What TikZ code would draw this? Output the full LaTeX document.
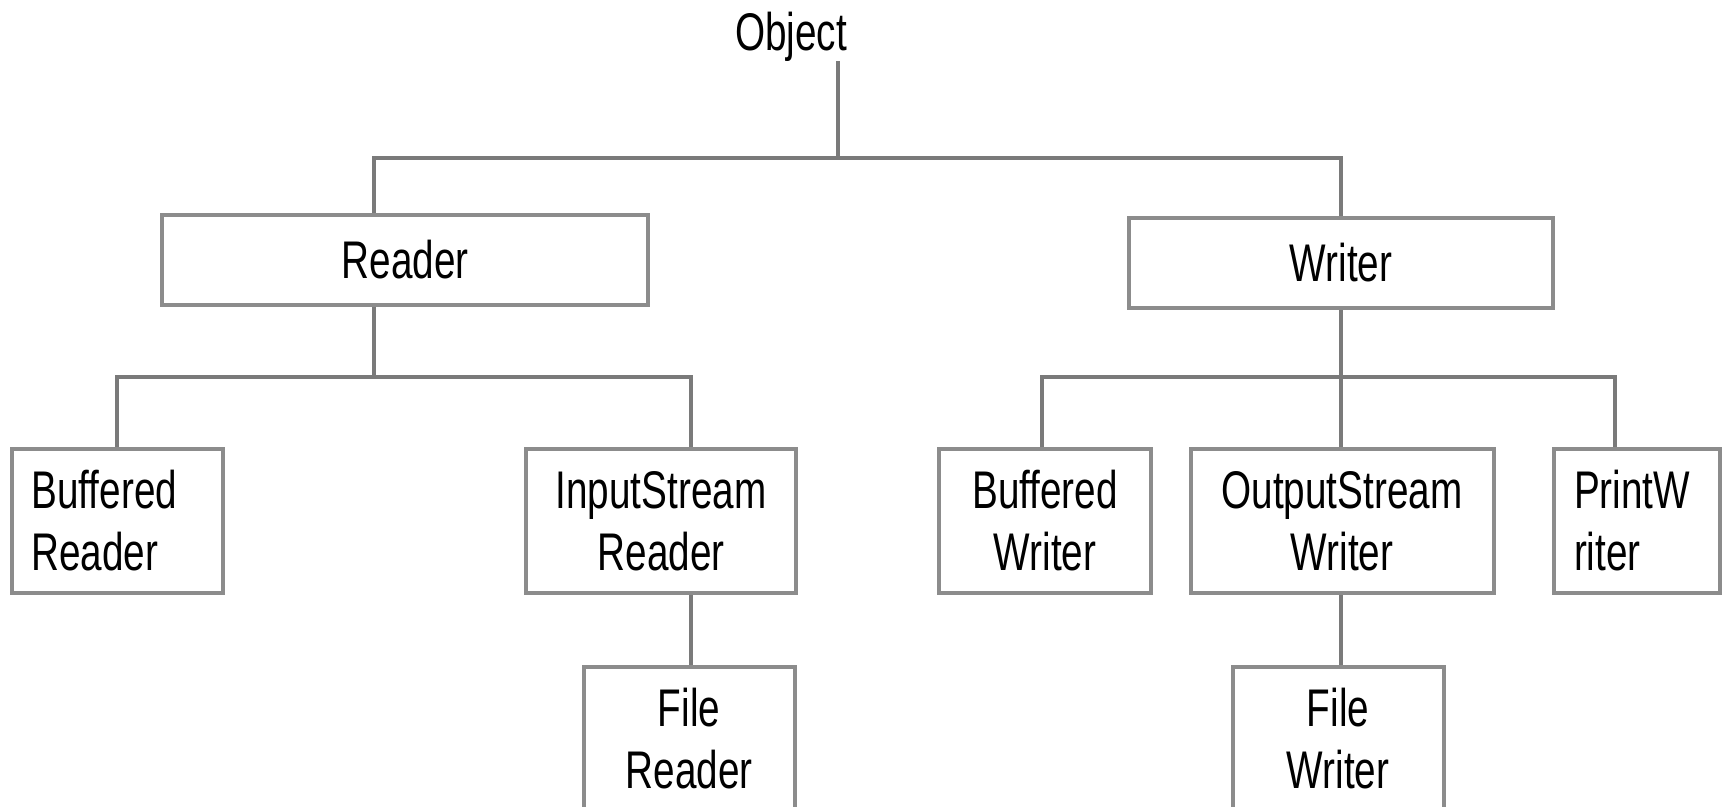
\documentclass[tikz,border=0pt]{standalone}
\usepackage{fontspec}
\setmainfont{Liberation Sans}[FakeStretch=0.73]
\usepackage{tikz}
\definecolor{box-gray}{HTML}{8C8C8C}
\definecolor{line-gray}{HTML}{7A7A7A}

\tikzset{
  klasse/.style={draw=box-gray, line width=4pt, inner xsep=20pt, inner ysep=0pt,
    minimum height=144pt, align=center, font=\fontsize{53}{62}\selectfont},
  link/.style={draw=line-gray, line width=3.5pt}
}

\begin{document}
\begin{tikzpicture}[x=1pt,y=-1pt]
  \useasboundingbox (0,0) rectangle (1723,806);

  % Rodklasse
  \node[anchor=base, inner sep=0pt, font=\fontsize{53}{62}\selectfont] (Object) at (791,50) {Object};

  % Læsere og skrivere
  \node[klasse, minimum width=486pt, minimum height=90pt] (Reader) at (405,260) {Reader};
  \node[klasse, minimum width=424pt, minimum height=90pt] (Writer) at (1341,263) {Writer};

  % Underklasser
  \node[klasse, minimum width=211pt, text width=171pt, align=left] (BufReader) at (117,521) {Buffered\\Reader};
  \node[klasse, minimum width=270pt] (ISReader) at (661,521) {InputStream\\Reader};
  \node[klasse, minimum width=211pt] (FileReader) at (689,739) {File\\Reader};
  \node[klasse, minimum width=212pt] (BufWriter) at (1045,521) {Buffered\\Writer};
  \node[klasse, minimum width=303pt] (OSWriter) at (1342,521) {OutputStream\\Writer};
  \node[klasse, minimum width=166pt, text width=126pt, align=left] (PrintWriter) at (1637,521) {PrintW\\riter};
  \node[klasse, minimum width=211pt] (FileWriter) at (1338,739) {File\\Writer};

  % Samlepunkter
  \coordinate (root) at (838,158);
  \coordinate (rbus) at (374,377);
  \coordinate (wbus) at (1341,377);

  % Forbindelser
  \draw[link] (root) -- (root |- Object.south);
  \draw[link] ([xshift=-31pt]Reader.north) |- (root) -| (Writer.north);
  \draw[link] ([xshift=-31pt]Reader.south) -- (rbus);
  \draw[link] (BufReader.north) |- (rbus) -| ([xshift=30pt]ISReader.north);
  \draw[link] ([xshift=30pt]ISReader.south) -- ([xshift=30pt]ISReader.south |- FileReader.north);
  \draw[link] (Writer.south) -- (wbus);
  \draw[link] ([xshift=-3pt]BufWriter.north) |- (wbus) -| ([xshift=-22pt]PrintWriter.north);
  \draw[link] (wbus) -- (wbus |- OSWriter.north);
  \draw[link] (wbus |- OSWriter.south) -- (wbus |- FileWriter.north);
\end{tikzpicture}
\end{document}
